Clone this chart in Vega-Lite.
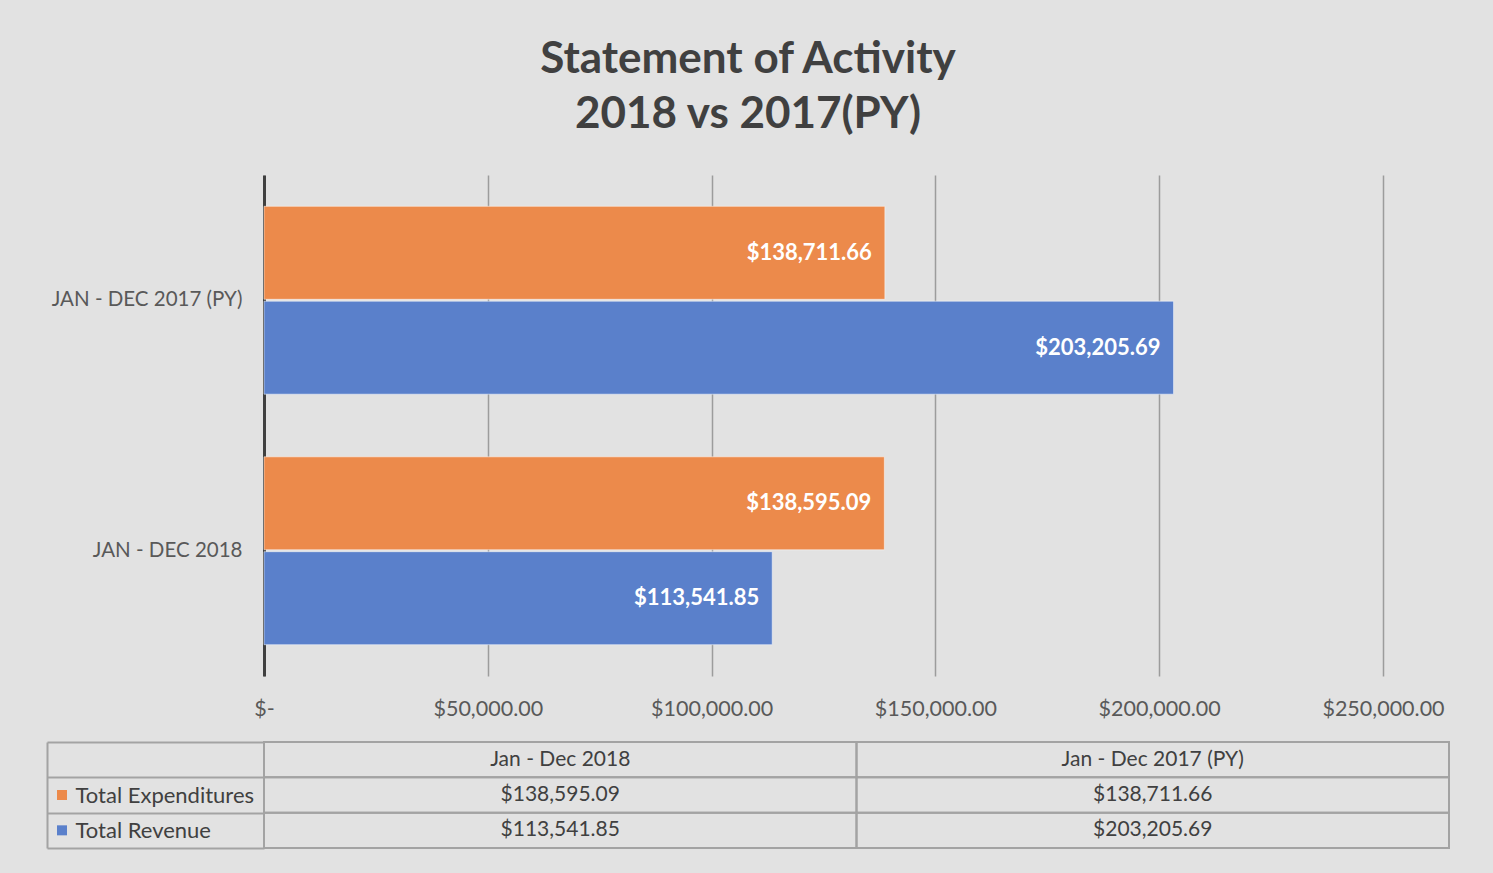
{
  "$schema": "https://vega.github.io/schema/vega-lite/v6.json",
  "background": "#e2e2e2",
  "padding": {"left": 46, "top": 38, "right": 44, "bottom": 25},
  "title": {
    "text": ["Statement of Activity", "2018 vs 2017(PY)"],
    "font": "Lato",
    "fontSize": 44,
    "fontWeight": "bold",
    "color": "#404040",
    "lineHeight": 55,
    "anchor": "middle",
    "offset": 38
  },
  "datasets": {
    "activity": [
      {"period": "Jan - Dec 2017 (PY)", "series": "Total Expenditures", "value": 138711.66},
      {"period": "Jan - Dec 2017 (PY)", "series": "Total Revenue", "value": 203205.69},
      {"period": "Jan - Dec 2018", "series": "Total Expenditures", "value": 138595.09},
      {"period": "Jan - Dec 2018", "series": "Total Revenue", "value": 113541.85}
    ],
    "headers": [
      {"period": "Jan - Dec 2018", "series": "header"},
      {"period": "Jan - Dec 2017 (PY)", "series": "header"}
    ],
    "rowlabels": [
      {"series": "Total Expenditures"},
      {"series": "Total Revenue"}
    ]
  },
  "spacing": 11,
  "vconcat": [
    {
      "width": 1119,
      "height": 501,
      "data": {"name": "activity"},
      "encoding": {
        "y": {
          "field": "period",
          "type": "nominal",
          "sort": ["Jan - Dec 2017 (PY)", "Jan - Dec 2018"],
          "scale": {"paddingInner": 0.25, "paddingOuter": 0.125},
          "axis": {
            "title": null,
            "domainColor": "#404040",
            "domainWidth": 3,
            "ticks": false,
            "grid": false,
            "labelPadding": 22,
            "labelFont": "Lato",
            "labelFontSize": 20.5,
            "labelColor": "#595959",
            "labelLimit": 0,
            "labelExpr": "upper(datum.label)",
            "minExtent": 217,
            "maxExtent": 217
          }
        },
        "yOffset": {
          "field": "series",
          "sort": ["Total Expenditures", "Total Revenue"],
          "scale": {"paddingInner": 0.02}
        },
        "x": {
          "field": "value",
          "type": "quantitative",
          "scale": {"domain": [0, 250000], "nice": false},
          "axis": {
            "title": null,
            "values": [0, 50000, 100000, 150000, 200000, 250000],
            "domain": false,
            "ticks": false,
            "grid": true,
            "gridColor": "#9c9c9c",
            "gridWidth": 1.5,
            "labelPadding": 22,
            "labelFont": "Lato",
            "labelFontSize": 21.5,
            "labelColor": "#595959",
            "labelFlush": false,
            "labelExpr": "datum.value == 0 ? '$-' : format(datum.value, '$,.2f')"
          }
        }
      },
      "layer": [
        {
          "mark": {"type": "bar", "stroke": "#ffffff", "strokeOpacity": 0.5, "strokeWidth": 1},
          "encoding": {
            "color": {
              "field": "series",
              "type": "nominal",
              "scale": {"domain": ["Total Expenditures", "Total Revenue"], "range": ["#EC8A4B", "#5A80CB"]},
              "legend": null
            }
          }
        },
        {
          "mark": {"type": "text", "align": "right", "dx": -13, "font": "Lato", "fontWeight": "bold", "fontSize": 22, "color": "#ffffff"},
          "encoding": {
            "text": {"field": "value", "type": "quantitative", "format": "$,.2f"}
          }
        }
      ]
    },
    {
      "width": 1185,
      "height": 106,
      "encoding": {
        "x": {
          "field": "period",
          "type": "nominal",
          "sort": ["Jan - Dec 2018", "Jan - Dec 2017 (PY)"],
          "scale": {"paddingInner": 0, "paddingOuter": 0},
          "axis": null
        },
        "y": {
          "field": "series",
          "type": "nominal",
          "scale": {"domain": ["header", "Total Expenditures", "Total Revenue"], "paddingInner": 0, "paddingOuter": 0},
          "axis": {
            "title": null,
            "orient": "left",
            "offset": 217,
            "domain": true,
            "domainColor": "#a3a3a3",
            "domainWidth": 2,
            "ticks": true,
            "tickBand": "extent",
            "tickSize": -217,
            "tickColor": "#a3a3a3",
            "tickWidth": 2,
            "grid": false,
            "labelAlign": "left",
            "labelBaseline": "middle",
            "labelPadding": 189,
            "labelFont": "Lato",
            "labelFontSize": 22,
            "labelColor": "#404040",
            "labelLimit": 0,
            "labelExpr": "datum.value === 'header' ? '' : datum.label"
          }
        }
      },
      "layer": [
        {
          "data": {"name": "headers"},
          "mark": {"type": "rect", "fill": "transparent", "stroke": "#a3a3a3", "strokeWidth": 2}
        },
        {
          "data": {"name": "headers"},
          "mark": {"type": "text", "font": "Lato", "fontSize": 21, "color": "#404040"},
          "encoding": {
            "text": {"field": "period"}
          }
        },
        {
          "data": {"name": "activity"},
          "mark": {"type": "rect", "fill": "transparent", "stroke": "#a3a3a3", "strokeWidth": 2}
        },
        {
          "data": {"name": "activity"},
          "mark": {"type": "text", "font": "Lato", "fontSize": 21, "color": "#404040"},
          "encoding": {
            "text": {"field": "value", "type": "quantitative", "format": "$,.2f"}
          }
        },
        {
          "data": {"name": "rowlabels"},
          "mark": {"type": "point", "shape": "square", "filled": true, "size": 100, "opacity": 1, "xOffset": -202},
          "encoding": {
            "x": {"datum": "Jan - Dec 2018", "type": "nominal", "bandPosition": 0},
            "color": {
              "field": "series",
              "type": "nominal",
              "scale": {"domain": ["Total Expenditures", "Total Revenue"], "range": ["#ED7D31", "#4472C4"]},
              "legend": null
            }
          }
        }
      ]
    }
  ],
  "config": {
    "view": {"stroke": null}
  }
}
